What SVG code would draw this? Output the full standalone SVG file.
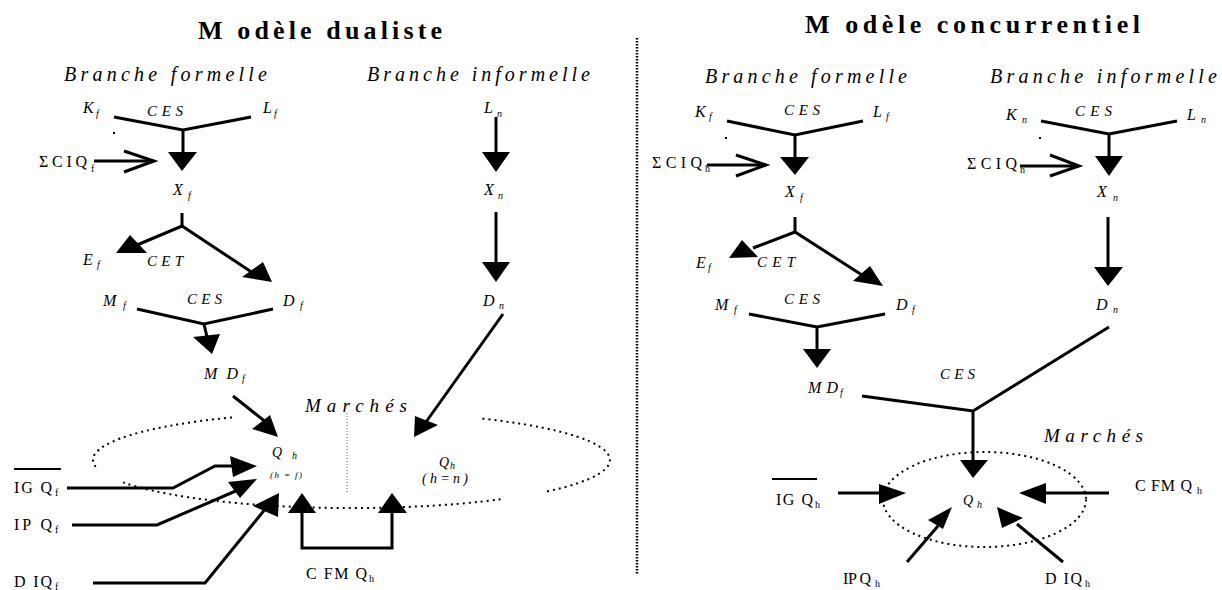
<svg xmlns="http://www.w3.org/2000/svg" width="1222" height="590" viewBox="0 0 1222 590">
<style>
text { font-family: "Liberation Serif", "Times New Roman", serif; fill: #000; }
.it { font-style: italic; }
.ttl { font-weight: bold; font-size: 26px; }
.br { font-style: italic; font-size: 20px; }
.v { font-style: italic; font-size: 16px; }
.s { font-style: italic; font-size: 10px; }
.su { font-size: 10px; }
.c { font-style: italic; font-size: 15px; }
.up { font-size: 16px; }
.mk { font-style: italic; font-size: 19px; }
.ln { stroke: #000; stroke-width: 3; fill: none; stroke-linejoin: miter; }
.ah { fill: #000; stroke: none; }
.dot { stroke: #000; stroke-width: 2; fill: none; stroke-dasharray: 2 4; }
</style>
<rect width="1222" height="590" fill="#fff"/>

<!-- Dividers / containers -->
<g id="divider">
  <line x1="637" y1="38" x2="637" y2="575" stroke="#000" stroke-width="2.5" stroke-dasharray="1.5 1.5"/>
</g>
<g id="marches-left">
  <path class="dot" d="M 232 417.4 A 258.5 48 0 0 0 97 468.4"/>
  <path class="dot" d="M 123 482.4 A 258.5 48 0 0 0 503 499"/>
  <path class="dot" d="M 547 491.4 A 258.5 48 0 0 0 482 418.6"/>
  <line x1="347" y1="413" x2="347" y2="493" stroke="#555" stroke-width="1" stroke-dasharray="1 2"/>
  <text class="mk" x="305" y="412" textLength="102" lengthAdjust="spacing">Marchés</text>
</g>
<g id="marches-right">
  <ellipse class="dot" cx="984.5" cy="499.5" rx="101.5" ry="47.5"/>
  <text class="mk" x="1044" y="442" textLength="99" lengthAdjust="spacing">Marchés</text>
</g>

<!-- Left: Modèle dualiste -->
<g id="title-left"><text class="ttl" x="198" y="39" textLength="244" lengthAdjust="spacing">M odèle dualiste</text></g>
<g id="branche-formelle-left"><text class="br" x="64" y="81" textLength="203" lengthAdjust="spacing">Branche formelle</text></g>
<g id="branche-informelle-left"><text class="br" x="367" y="81" textLength="223" lengthAdjust="spacing">Branche informelle</text></g>
<g id="Kf-left"><text class="v" x="83" y="113">K</text><text class="s" x="96" y="117">f</text></g>
<g id="CES1-left"><text class="c" x="147" y="116" textLength="36" lengthAdjust="spacing">CES</text></g>
<g id="Lf-left"><text class="v" x="263" y="113">L</text><text class="s" x="274" y="117">f</text></g>
<g id="dot1-left"><rect x="113" y="132" width="2" height="2" fill="#000"/></g>
<g id="SCIQ-left"><text class="up" x="39" y="167" textLength="48" lengthAdjust="spacing">ΣCIQ</text><text class="su" x="91" y="172">f</text></g>
<g id="Xf-left"><text class="v" x="173" y="195">X</text><text class="s" x="188" y="199">f</text></g>
<g id="Ln-left"><text class="v" x="484" y="113">L</text><text class="s" x="497" y="117">n</text></g>
<g id="Xn-left"><text class="v" x="484" y="195">X</text><text class="s" x="498" y="199">n</text></g>
<g id="Ef-left"><text class="v" x="83" y="265">E</text><text class="s" x="97" y="268">f</text></g>
<g id="CET-left"><text class="c" x="147" y="266" textLength="36" lengthAdjust="spacing">CET</text></g>
<g id="Mf-left"><text class="v" x="103" y="306">M</text><text class="s" x="123" y="309">f</text></g>
<g id="CES2-left"><text class="c" x="187" y="304" textLength="35" lengthAdjust="spacing">CES</text></g>
<g id="Df-left"><text class="v" x="283" y="306">D</text><text class="s" x="300" y="309">f</text></g>
<g id="Dn-left"><text class="v" x="483" y="306">D</text><text class="s" x="499" y="309">n</text></g>
<g id="MDf-left"><text class="v" x="204" y="379" textLength="34" lengthAdjust="spacing">MD</text><text class="s" x="242" y="382">f</text></g>
<g id="Qh-f"><text class="it" x="272" y="457" font-size="14">Q</text><text class="s" x="292" y="459">h</text><text class="it" x="270" y="478" font-size="9" textLength="32" lengthAdjust="spacing">(h = f)</text></g>
<g id="Qh-n"><text class="it" x="439" y="467" font-size="14">Q</text><text class="s" x="450" y="469">h</text><text class="it" x="422" y="483" font-size="14" textLength="46" lengthAdjust="spacing">( h = n )</text></g>
<g id="IGQf"><line x1="14" y1="469" x2="61" y2="469" stroke="#000" stroke-width="2"/><text class="up" x="14" y="493" textLength="38" lengthAdjust="spacing">IG Q</text><text class="su" x="55" y="496">f</text></g>
<g id="IPQf"><text class="up" x="14" y="530" textLength="38" lengthAdjust="spacing">IP Q</text><text class="su" x="55" y="533">f</text></g>
<g id="DIQf"><text class="up" x="14" y="587" textLength="38" lengthAdjust="spacing">D IQ</text><text class="su" x="55" y="590">f</text></g>
<g id="CFMQh-left"><text class="up" x="306" y="579" textLength="61" lengthAdjust="spacing">C FM Q</text><text class="su" x="369" y="582">h</text></g>

<!-- Right: Modèle concurrentiel -->
<g id="title-right"><text class="ttl" x="805" y="33" textLength="335" lengthAdjust="spacing">M odèle concurrentiel</text></g>
<g id="branche-formelle-right"><text class="br" x="705" y="83" textLength="202" lengthAdjust="spacing">Branche formelle</text></g>
<g id="branche-informelle-right"><text class="br" x="990" y="83" textLength="227" lengthAdjust="spacing">Branche informelle</text></g>
<g id="Kf-right"><text class="v" x="695" y="117">K</text><text class="s" x="709" y="120">f</text></g>
<g id="CES1-right"><text class="c" x="784" y="115" textLength="36" lengthAdjust="spacing">CES</text></g>
<g id="Lf-right"><text class="v" x="873" y="117">L</text><text class="s" x="886" y="120">f</text></g>
<g id="dot1-right"><rect x="725" y="137" width="2" height="2" fill="#000"/></g>
<g id="SCIQh-1"><text class="up" x="652" y="168" textLength="50" lengthAdjust="spacing">ΣCIQ</text><text class="su" x="705" y="172">h</text></g>
<g id="Xf-right"><text class="v" x="785" y="197">X</text><text class="s" x="800" y="201">f</text></g>
<g id="Kn-right"><text class="v" x="1006" y="120">K</text><text class="s" x="1022" y="123">n</text></g>
<g id="CES2-right"><text class="c" x="1075" y="116" textLength="37" lengthAdjust="spacing">CES</text></g>
<g id="Ln-right"><text class="v" x="1187" y="120">L</text><text class="s" x="1201" y="123">n</text></g>
<g id="dot2-right"><rect x="1039" y="137" width="2" height="2" fill="#000"/></g>
<g id="SCIQh-2"><text class="up" x="967" y="169" textLength="50" lengthAdjust="spacing">ΣCIQ</text><text class="su" x="1020" y="173">h</text></g>
<g id="Xn-right"><text class="v" x="1097" y="197">X</text><text class="s" x="1113" y="201">n</text></g>
<g id="Ef-right"><text class="v" x="696" y="268">E</text><text class="s" x="708" y="271">f</text></g>
<g id="CET-right"><text class="c" x="757" y="267" textLength="38" lengthAdjust="spacing">CET</text></g>
<g id="Mf-right"><text class="v" x="715" y="310">M</text><text class="s" x="734" y="313">f</text></g>
<g id="CES3-right"><text class="c" x="784" y="304" textLength="36" lengthAdjust="spacing">CES</text></g>
<g id="Df-right"><text class="v" x="896" y="310">D</text><text class="s" x="912" y="313">f</text></g>
<g id="Dn-right"><text class="v" x="1096" y="310">D</text><text class="s" x="1113" y="313">n</text></g>
<g id="MDf-right"><text class="v" x="808" y="393" textLength="30" lengthAdjust="spacing">MD</text><text class="s" x="840" y="396">f</text></g>
<g id="CES4-right"><text class="c" x="940" y="379" textLength="35" lengthAdjust="spacing">CES</text></g>
<g id="Qh-right"><text class="it" x="963" y="505" font-size="14">Q</text><text class="s" x="977" y="508">h</text></g>
<g id="IGQh"><line x1="772" y1="479" x2="817" y2="479" stroke="#000" stroke-width="2"/><text class="up" x="776" y="505" textLength="37" lengthAdjust="spacing">IG Q</text><text class="su" x="815" y="508">h</text></g>
<g id="CFMQh-right"><text class="up" x="1135" y="491" textLength="57" lengthAdjust="spacing">C FM Q</text><text class="su" x="1197" y="494">h</text></g>
<g id="IPQh"><text class="up" x="843" y="584" textLength="28" lengthAdjust="spacing">IP Q</text><text class="su" x="875" y="587">h</text></g>
<g id="DIQh"><text class="up" x="1045" y="584" textLength="37" lengthAdjust="spacing">D IQ</text><text class="su" x="1085" y="587">h</text></g>

<!-- Connectors -->
<g id="connectors">
  <!-- left -->
  <polyline class="ln" points="114,117 183,130 251,117"/>
  <line class="ln" x1="183" y1="130" x2="183" y2="153"/>
  <polygon class="ah" points="168,152 197,152 182,171"/>
  <line class="ln" x1="94" y1="161" x2="154" y2="161"/>
  <polyline class="ln" points="124,151 154,161 124,172"/>
  <line class="ln" x1="496" y1="117" x2="496" y2="153"/>
  <polygon class="ah" points="482,152 510,152 496,172"/>
  <line class="ln" x1="182" y1="213" x2="182" y2="226"/>
  <polyline class="ln" points="137,245 182,226 253,273"/>
  <polygon class="ah" points="116,253 130,235 147,253"/>
  <polygon class="ah" points="242,277 263,262 272,282"/>
  <line class="ln" x1="496" y1="212" x2="496" y2="263"/>
  <polygon class="ah" points="482,262 510,262 496,282"/>
  <polyline class="ln" points="137,309 204,324 273,309"/>
  <line class="ln" x1="204" y1="324" x2="207" y2="337"/>
  <polygon class="ah" points="193,337 220,334 212,354"/>
  <line class="ln" x1="233" y1="396" x2="267" y2="423"/>
  <polygon class="ah" points="252,429 270,415 278,437"/>
  <line class="ln" x1="503" y1="314" x2="426" y2="422"/>
  <polygon class="ah" points="414,437 415,416 438,425"/>
  <polyline class="ln" points="67,488 173,488 215,466 233,466"/>
  <polygon class="ah" points="230,456 257,466 233,477"/>
  <polyline class="ln" points="72,525 157,525 238,490"/>
  <polygon class="ah" points="228,482 257,479 240,498"/>
  <polyline class="ln" points="93,583 205,583 266,508"/>
  <polygon class="ah" points="253,506 279,493 278,517"/>
  <polyline class="ln" points="302,512 302,548 392,548 392,512"/>
  <polygon class="ah" points="288,513 316,513 302,493"/>
  <polygon class="ah" points="378,513 407,513 392,493"/>
  <!-- right -->
  <polyline class="ln" points="727,121 795,135 863,121"/>
  <line class="ln" x1="795" y1="135" x2="795" y2="158"/>
  <polygon class="ah" points="780,157 809,157 795,175"/>
  <line class="ln" x1="707" y1="165" x2="766" y2="165"/>
  <polyline class="ln" points="736,155 766,165 736,176"/>
  <polyline class="ln" points="1041,121 1109,134 1177,121"/>
  <line class="ln" x1="1109" y1="134" x2="1109" y2="157"/>
  <polygon class="ah" points="1095,156 1123,156 1109,176"/>
  <line class="ln" x1="1020" y1="166" x2="1079" y2="166"/>
  <polyline class="ln" points="1050,155 1079,166 1050,176"/>
  <line class="ln" x1="795" y1="217" x2="795" y2="232"/>
  <polyline class="ln" points="753,248 795,232 862,275"/>
  <polygon class="ah" points="729,258 742,240 758,257"/>
  <polygon class="ah" points="853,281 870,266 883,286"/>
  <line class="ln" x1="1108" y1="217" x2="1108" y2="268"/>
  <polygon class="ah" points="1094,267 1123,267 1108,286"/>
  <polyline class="ln" points="749,314 817,327 885,314"/>
  <line class="ln" x1="817" y1="327" x2="817" y2="350"/>
  <polygon class="ah" points="803,349 831,349 817,368"/>
  <polyline class="ln" points="862,396 973,411 1109,327"/>
  <line class="ln" x1="973" y1="411" x2="973" y2="461"/>
  <polygon class="ah" points="960,460 988,460 973,478"/>
  <line class="ln" x1="838" y1="493" x2="883" y2="493"/>
  <polygon class="ah" points="879,484 906,493 879,504"/>
  <line class="ln" x1="1109" y1="493" x2="1043" y2="493"/>
  <polygon class="ah" points="1046,483 1019,493 1046,504"/>
  <line class="ln" x1="907" y1="562" x2="938" y2="526"/>
  <polygon class="ah" points="952,507 928,520 943,529"/>
  <line class="ln" x1="1063" y1="562" x2="1017" y2="524"/>
  <polygon class="ah" points="997,507 1002,528 1023,518"/>
</g>
</svg>
